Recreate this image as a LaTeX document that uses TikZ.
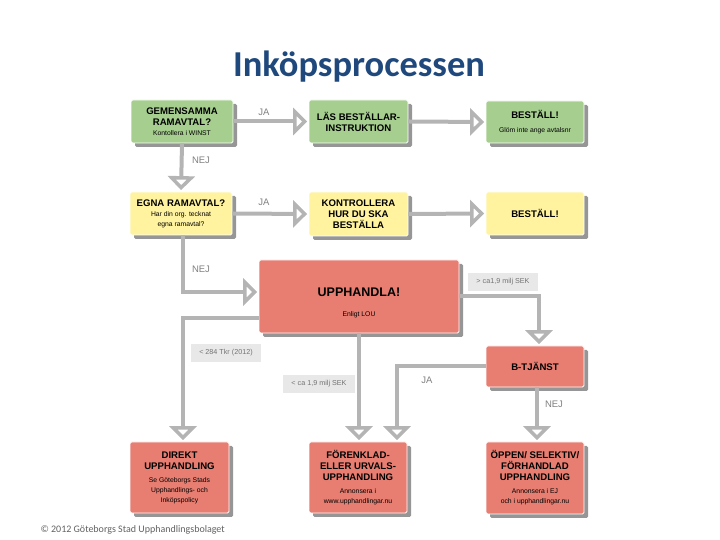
\documentclass[tikz,border=0pt]{standalone}
\usepackage{fontspec}
\setmainfont{Liberation Sans}
\newfontfamily\calibri{Carlito}
\usepackage{tikz}
\usetikzlibrary{arrows.meta, shadows}
\definecolor{ramgreen}{RGB}{166,206,143}
\definecolor{ramyellow}{RGB}{255,243,160}
\definecolor{ramred}{RGB}{231,126,113}
\definecolor{shadowgray}{RGB}{150,150,150}
\definecolor{flowgray}{RGB}{180,180,180}
\definecolor{labelgray}{RGB}{232,232,232}
\definecolor{titleblue}{RGB}{31,73,125}
\newcommand{\subfont}{\fontsize{6.8}{8.4}\selectfont\mdseries}
\tikzset{
    box/.style = {draw = white, line width = 0.8pt, rounded corners = 1.5pt, align = center, inner sep = 0pt,
                  font = \fontsize{9.6}{11}\selectfont\bfseries,
                  drop shadow = {shadow xshift = 4pt, shadow yshift = -4pt, fill = shadowgray, opacity = 1}},
    flow/.style = {line width = 4pt, color = flowgray, -{Triangle[open, width = 27pt, length = 14pt]}, shorten > = 1.5pt},
    answer/.style = {text = black!50, font = \fontsize{9.5}{11}\selectfont},
    limit/.style = {fill = labelgray, text = black!55, inner xsep = 8pt, minimum height = 18pt, font = \fontsize{7.2}{8}\selectfont}
}
\begin{document}
\begin{tikzpicture}[x = 1pt, y = 1pt]
                        \useasboundingbox (0,0) rectangle (720,540);
                        \node[anchor = base, text = titleblue, font = \calibri\bfseries\fontsize{36.5}{40}\selectfont] (title) at (359,463) {Inköpsprocessen};

                        \node[box, fill = ramgreen, minimum width = 102pt, minimum height = 43pt] (gem) at (182,418.5) {GEMENSAMMA\\RAMAVTAL?\\[-1pt]\subfont Kontollera i WINST};
                        \node[box, fill = ramgreen, minimum width = 99pt, minimum height = 43pt] (las) at (358.5,418.5) {LÄS BESTÄLLAR-\\INSTRUKTION};
                        \node[box, fill = ramgreen, minimum width = 98pt, minimum height = 42pt] (bestgreen) at (535,418) {BESTÄLL!\\[3pt]\subfont Glöm inte ange avtalsnr};

                        \node[box, fill = ramyellow, minimum width = 102pt, minimum height = 43pt] (egna) at (181,326.5) {EGNA RAMAVTAL?\\[-1pt]\subfont Har din org. tecknat\\[-1pt]\subfont egna ramavtal?};
                        \node[box, fill = ramyellow, minimum width = 99pt, minimum height = 44pt] (kontr) at (358.5,326) {KONTROLLERA\\HUR DU SKA\\BESTÄLLA};
                        \node[box, fill = ramyellow, minimum width = 98pt, minimum height = 43pt] (bestyellow) at (535,326.5) {BESTÄLL!};

                        \node[box, fill = ramred, minimum width = 200pt, minimum height = 73pt] (upph) at (359,243.5) {\rule{0pt}{21pt}{\fontsize{12.5}{14}\selectfont UPPHANDLA!}\\[9pt]\subfont Enligt LOU};
                        \node[box, fill = ramred, minimum width = 98pt, minimum height = 41pt] (btj) at (535,173.5) {B-TJÄNST};

                        \node[box, fill = ramred, minimum width = 99pt, minimum height = 71pt] (direkt) at (179.5,62.5) {DIREKT\\UPPHANDLING\\[2pt]\subfont Se Göteborgs Stads\\[-1pt]\subfont Upphandlings- och\\[-1pt]\subfont Inköpspolicy};
                        \node[box, fill = ramred, minimum width = 98pt, minimum height = 71pt] (forenkl) at (358,62.5) {FÖRENKLAD-\\ELLER URVALS-\\UPPHANDLING\\[2pt]\subfont Annonsera i\\[-1pt]\subfont www.upphandlingar.nu};
                        \node[box, fill = ramred, minimum width = 98pt, minimum height = 72pt] (oppen) at (535,62) {ÖPPEN/ SELEKTIV/\\FÖRHANDLAD\\UPPHANDLING\\[2pt]\subfont Annonsera i EJ\\[-1pt]\subfont och i upphandlingar.nu};

                        \draw[flow] (gem.east) -- (las.west);
                        \draw[flow] (las.east) -- (bestgreen.west);
                        \draw[flow] (gem.south) -- (egna.north);
                        \draw[flow] (egna.east) -- (kontr.west);
                        \draw[flow] (kontr.east) -- (bestyellow.west);
                        \draw[flow] ([xshift = 2pt]egna.south) |- ([yshift = 4.5pt]upph.west);

                        \draw[flow] (upph.east) -| ([xshift = 4pt]btj.north);
                        \draw[flow] ([yshift = -22pt]upph.west) -| ([xshift = 3.5pt]direkt.north);
                        \draw[flow] (upph.south) -- (upph.south |- forenkl.north);
                        \draw[flow] (btj.west) -| ([xshift = 39pt]forenkl.north);
                        \draw[flow] ([xshift = 2pt]btj.south) -- ([xshift = 2pt]oppen.north);

                        \node[answer] (ja1) at (264,428) {JA};
                        \node[answer] (ja2) at (264,338) {JA};
                        \node[answer] (nej1) at (201,380) {NEJ};
                        \node[answer] (nej2) at (201,271) {NEJ};
                        \node[answer] (ja3) at (427,160) {JA};
                        \node[answer] (nej3) at (554,136) {NEJ};

                        \node[limit] (over) at (503,258) {> ca1,9 milj SEK};
                        \node[limit] (under284) at (226,187) {< 284 Tkr (2012)};
                        \node[limit] (under19) at (319,156) {< ca 1,9 milj SEK};

                        \node[anchor = base west, text = black!62, font = \calibri\fontsize{10}{11}\selectfont] (footer) at (37,7) {© 2012 Göteborgs Stad Upphandlingsbolaget};
                    \end{tikzpicture}
\end{document}
